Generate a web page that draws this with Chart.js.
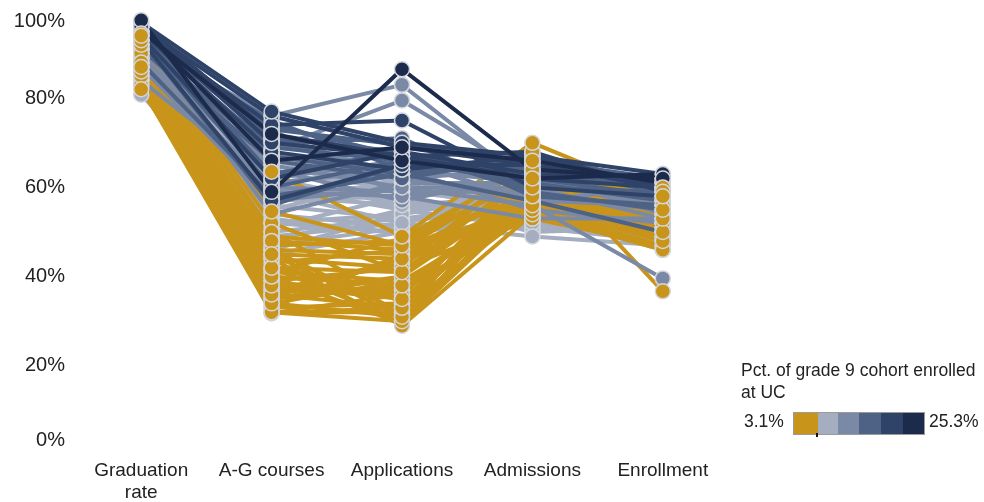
<!DOCTYPE html>
<html>
<head>
<meta charset="utf-8">
<script src="https://cdn.jsdelivr.net/npm/chart.js@4.4.1/dist/chart.umd.min.js"></script>
<style>
  body { margin: 0; background: #fff; font-family: "Liberation Sans", Arial, sans-serif; }
  #wrap { position: relative; width: 984px; height: 502px; }
  #legend { position: absolute; left: 741px; top: 359px; width: 243px; color: #222; font-size: 17.5px; }
  #legend .title { line-height: 22px; }
  #legend .row { position: relative; height: 24px; margin-top: 7px; }
  #legend .lo { position: absolute; left: 3px; top: 1px; }
  #legend .hi { position: absolute; left: 188px; top: 1px; }
  #legend .bar { position: absolute; left: 52px; top: 2px; height: 21px; border: 1px solid #9a9a9a; display: flex; }
  #legend .bar div { height: 21px; }
  #legend .tick { position: absolute; left: 75px; top: 23px; width: 1.5px; height: 4px; background: #111; }
</style>
</head>
<body>
<div id="wrap">
  <canvas id="chart" width="984" height="502"></canvas>
  <div id="legend">
    <div class="title">Pct. of grade 9 cohort enrolled<br>at UC</div>
    <div class="row">
      <span class="lo">3.1%</span>
      <div class="bar" id="legendBar"></div>
      <div class="tick"></div>
      <span class="hi">25.3%</span>
    </div>
  </div>
</div>
<script>
// axes of the parallel plot
const axisLabels = [["Graduation", "rate"], "A-G courses", "Applications", "Admissions", "Enrollment"];
const yTicks = [0, 20, 40, 60, 80, 100];

// one entry per school (percent)
const gradRate = [97.5, 96, 95, 97, 96, 94, 95, 93, 96, 94, 92, 95, 91, 93, 97, 88,
  92, 90, 84, 95, 89, 93, 87, 91, 94,
  80.8, 90, 88, 93, 86, 91, 89, 84, 92, 87, 95, 85, 90, 88, 96.5,
  94, 93, 87, 86, 92, 88, 82, 90, 94.5, 85, 89, 91, 83, 87.5, 93.5, 86.5, 90.5, 88.5, 92.5, 84.5,
  91, 89, 86, 93, 84, 90, 87, 92, 85, 88, 94, 83, 89.5, 86, 91.5, 87, 82.5, 90, 88, 92,
  90, 87, 93, 85, 91, 89, 94, 86, 88, 92, 84, 90.5,
  93, 89, 95, 91, 87, 92,
  95, 93, 96, 94,
  96, 95, 97];
const agCourses = [59, 66, 72, 77, 70, 62, 74, 57, 73, 69, 75, 63, 66, 56, 70, 58,
  76, 68.5, 61, 72, 65, 54, 59, 70, 64,
  49, 66, 62, 57, 52, 68, 47, 60, 55, 50, 64, 45, 58, 53, 71,
  63.5, 54.6, 45, 42, 40, 38, 36, 34, 48, 32, 44, 31.8, 39, 35, 46, 33, 42, 37, 50, 41,
  47, 43, 36, 52, 34, 38, 33, 45, 40, 31.8, 49, 37, 44, 35, 42, 39, 32, 46, 41, 36,
  61, 56, 67, 48, 59, 51, 63, 54, 58, 46, 52, 65,
  67, 60, 71, 62, 57, 73,
  74, 67, 71, 60,
  76, 68, 72];
const applications = [86.5, 69, 66, 70, 67, 68, 75, 65, 69.5, 66, 64, 68, 62, 65, 71, 63,
  83, 79.5, 64, 62, 60, 61, 58, 63, 57,
  52, 60, 56, 58, 54, 59, 51, 55, 62, 53, 57, 50, 61, 49.5, 63,
  49, 47, 44, 41, 38, 35, 33, 31, 46, 30, 29, 36, 42, 40, 32, 45, 37, 43, 34, 39,
  48, 46, 44, 41, 39, 36, 34, 31, 29.5, 33, 47, 37, 42, 38, 30, 35, 32, 45, 48.5, 40,
  57, 53, 61, 55, 52, 58, 60, 51, 56, 54, 50, 59,
  64, 59, 62, 66, 60, 58,
  67, 63, 68, 66,
  69, 64, 67];
const admissions = [64, 66, 62, 67, 68, 63, 60, 65, 66, 61, 64, 59, 67, 62, 58, 57,
  60, 62, 55, 58, 56, 61, 53, 57, 63,
  49, 54, 58, 52, 60, 56, 51, 57, 55, 53, 50, 59, 54, 56, 52,
  70, 66, 62, 60, 58, 56, 55, 57, 64, 59, 54, 61, 53, 68, 63, 57, 60, 58, 65, 56,
  62, 59, 56, 64, 55, 61, 58, 66, 57, 60, 63, 54, 67, 59, 62, 58, 56, 61, 65, 60,
  55, 57, 53, 51, 58, 50, 56, 55, 54, 59, 52, 57,
  61, 59, 64, 57, 60, 62,
  63, 66, 60, 64,
  65, 67, 62];
const enrollment = [62, 61, 63, 60, 59, 62, 58, 60, 62, 57, 59, 55, 61, 58, 56, 50,
  58, 57, 52, 55, 39.6, 56, 53, 60, 54,
  47, 59, 52, 55, 50, 57, 48, 53, 56, 49, 58, 51, 46, 54, 60,
  58, 55, 53, 50, 52, 48, 46, 51, 56, 54, 49, 57, 47, 36.7, 59, 52, 55, 50, 53, 48,
  56, 54, 50, 58, 47, 53, 51, 57, 49, 52, 60, 46, 55, 50, 54, 52, 48, 56, 53, 51,
  56, 52, 58, 49, 54, 51, 57, 50, 55, 53, 48, 59,
  58, 55, 60, 56, 53, 61,
  60, 61, 59, 62,
  61, 63, 60];
const ucPct = [25.3, 23.5, 22.0, 21, 20, 19.5, 18.5, 18.2, 17.5, 16.8, 16, 15.5, 15, 14.5, 14.3, 14.8,
  13.8, 13.2, 12.8, 12.5, 12, 11.5, 11, 10.8, 10.6,
  10.2, 10, 9.6, 9.3, 9, 8.7, 8.4, 8.1, 7.8, 7.5, 7.2, 7, 6.9, 7.4, 9.8,
  6.6, 6.4, 6.1, 5.9, 5.6, 5.3, 5, 4.8, 4.5, 4.2, 4, 3.8, 3.5, 3.1, 5.5, 6.3, 4.6, 3.9, 6.0, 5.1,
  6.5, 6.2, 5.8, 6.7, 4.4, 3.6, 5.2, 4.9, 3.3, 4.1, 6.6, 5.7, 6.2, 3.7, 4.7, 5.4, 4.3, 6.4, 6.0, 5.0,
  9.2, 8.0, 10.3, 7.1, 8.8, 7.6, 9.5, 7.9, 8.5, 7.3, 9.1, 10.0,
  12.2, 11.3, 13.5, 10.9, 12.9, 11.7,
  16.2, 15.2, 17.0, 14.6,
  19, 20.5, 21.3];

const ucMin = 3.1, ucMax = 25.3;
const binColors = ["#c8951a", "#a4aec0", "#7a89a6", "#4e6286", "#2f4369", "#1c2b4b"];
// stacking of lines (0 = on top): darkest over lighter, gold over the light band
const lineRank = [4, 5, 3, 2, 1, 0];
// dots: gold on top
const dotRank = [0, 5, 4, 3, 2, 1];

function binOf(v) {
  let b = Math.floor((v - ucMin) / ((ucMax - ucMin) / binColors.length));
  return Math.max(0, Math.min(binColors.length - 1, b));
}

// legend colour bar
const widths = [24, 20, 21, 22, 22, 21];
const bar = document.getElementById('legendBar');
binColors.forEach((c, i) => {
  let d = document.createElement('div');
  d.style.background = c;
  d.style.width = widths[i] + 'px';
  bar.appendChild(d);
});

let datasets = [];
for (let i = 0; i < gradRate.length; i++) {
  let b = binOf(ucPct[i]);
  let values = [gradRate[i], agCourses[i], applications[i], admissions[i], enrollment[i]];
  datasets.push({
    data: values,
    borderColor: binColors[b],
    borderWidth: 4,
    pointRadius: 0,
    tension: 0,
    order: 10 + lineRank[b]
  });
  datasets.push({
    data: values,
    showLine: false,
    pointRadius: 7.5,
    pointBackgroundColor: binColors[b],
    pointBorderColor: '#d3d6dc',
    pointBorderWidth: 1.5,
    order: dotRank[b]
  });
}

// y labels: drawn from the scale, the end ones pulled in like the original
const yLabelPlugin = {
  id: 'yLabels',
  afterDraw(chart) {
    const ctx = chart.ctx;
    const y = chart.scales.y;
    ctx.save();
    ctx.font = '20px "Liberation Sans", Arial, sans-serif';
    ctx.fillStyle = '#222';
    ctx.textAlign = 'right';
    ctx.textBaseline = 'middle';
    for (let t of yTicks) {
      let py = Math.min(440, Math.max(21, y.getPixelForValue(t)));
      ctx.fillText(t + '%', 65, py);
    }
    ctx.restore();
  }
};

new Chart(document.getElementById('chart'), {
  type: 'line',
  data: { labels: axisLabels, datasets: datasets },
  plugins: [yLabelPlugin],
  options: {
    responsive: false,
    animation: false,
    events: [],
    clip: false,
    layout: { padding: { left: 76, right: 256, top: 6, bottom: 0 } },
    plugins: { legend: { display: false }, tooltip: { enabled: false } },
    scales: {
      x: {
        offset: true,
        grid: { display: false },
        border: { display: false },
        afterFit(scale) { scale.height = 47; },
        ticks: {
          color: '#222',
          font: { family: '"Liberation Sans", Arial, sans-serif', size: 19, lineHeight: 1.15 },
          padding: -3,
          maxRotation: 0,
          autoSkip: false
        }
      },
      y: { display: false, min: 0, max: 100 }
    }
  }
});
</script>
</body>
</html>
